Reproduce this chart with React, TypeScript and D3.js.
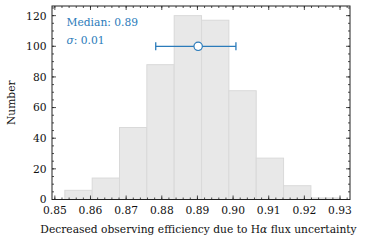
import React from "react";
import * as d3 from "d3";

const binStart = 0.8528;
const binWidth = 0.00767;
const counts = [6, 14, 47, 88, 120, 117, 71, 27, 9, 1];
const xTicks = [0.85, 0.86, 0.87, 0.88, 0.89, 0.9, 0.91, 0.92, 0.93];
const yTicks = [0, 20, 40, 60, 80, 100, 120];
const median = 0.8902;
const errLow = 0.8783;
const errHigh = 0.9008;
const errY = 100;
const annot = ["Median: 0.89", "σ: 0.01"];

const W = 366, H = 243;
const m = { left: 52, right: 16, top: 6, bottom: 43.5 };
const FONT = "DejaVu Serif";
const FS = 10.7;
const BLUE = "#2b7bba";

export default function App() {
  const x = d3.scaleLinear().domain([0.8492, 0.9328]).range([m.left, W - m.right]);
  const y = d3.scaleLinear().domain([0, 126.3]).range([H - m.bottom, m.top]);
  const x0 = m.left, x1 = W - m.right, y0 = H - m.bottom, y1 = m.top;
  const xMinor = d3.range(0.85, 0.9329, 0.002).filter(v => v >= 0.8492 && v <= 0.9328);
  const yMinor = d3.range(0, 126, 5);
  const bins = counts.map((c, i) => ({ a: binStart + i * binWidth, b: binStart + (i + 1) * binWidth, c }));
  return (
    <svg width={W} height={H} style={{ position: "absolute", left: 0, top: 0 }} fontFamily={FONT}>
      <rect x={0} y={0} width={W} height={H} fill="#fff" />
      {bins.map((d, i) => (
        <rect key={i} x={x(d.a)} y={y(d.c)} width={x(d.b) - x(d.a)} height={y(0) - y(d.c)}
          fill="#e8e8e8" stroke="#d9d9d9" strokeWidth={1} />
      ))}
      <line x1={x(errLow)} x2={x(errHigh)} y1={y(errY)} y2={y(errY)} stroke={BLUE} strokeWidth={1.3} />
      <line x1={x(errLow)} x2={x(errLow)} y1={y(errY) - 4} y2={y(errY) + 4} stroke={BLUE} strokeWidth={1.3} />
      <line x1={x(errHigh)} x2={x(errHigh)} y1={y(errY) - 4} y2={y(errY) + 4} stroke={BLUE} strokeWidth={1.3} />
      <circle cx={x(median)} cy={y(errY)} r={4.2} fill="#fff" stroke={BLUE} strokeWidth={1.2} />
      <text x={66.5} y={25.7} fontSize={FS} fill={BLUE}>{annot[0]}</text>
      <text x={66.5} y={44.3} fontSize={FS} fill={BLUE}>
        <tspan fontStyle="italic">σ</tspan>{annot[1].slice(1)}
      </text>
      <rect x={x0} y={y1} width={x1 - x0} height={y0 - y1} fill="none" stroke="#222" strokeWidth={1} />
      {xMinor.map((v, i) => (
        <g key={"xm" + i}>
          <line x1={x(v)} x2={x(v)} y1={y0} y2={y0 - 2} stroke="#222" strokeWidth={0.8} />
          <line x1={x(v)} x2={x(v)} y1={y1} y2={y1 + 2} stroke="#222" strokeWidth={0.8} />
        </g>
      ))}
      {xTicks.map((v, i) => (
        <g key={"x" + i}>
          <line x1={x(v)} x2={x(v)} y1={y0} y2={y0 - 4} stroke="#222" strokeWidth={0.8} />
          <line x1={x(v)} x2={x(v)} y1={y1} y2={y1 + 4} stroke="#222" strokeWidth={0.8} />
          <text x={x(v)} y={214.3} fontSize={FS} textAnchor="middle" fill="#111">{v.toFixed(2)}</text>
        </g>
      ))}
      {yMinor.map((v, i) => (
        <g key={"ym" + i}>
          <line x1={x0} x2={x0 + 2} y1={y(v)} y2={y(v)} stroke="#222" strokeWidth={0.8} />
          <line x1={x1} x2={x1 - 2} y1={y(v)} y2={y(v)} stroke="#222" strokeWidth={0.8} />
        </g>
      ))}
      {yTicks.map((v, i) => (
        <g key={"y" + i}>
          <line x1={x0} x2={x0 + 4} y1={y(v)} y2={y(v)} stroke="#222" strokeWidth={0.8} />
          <line x1={x1} x2={x1 - 4} y1={y(v)} y2={y(v)} stroke="#222" strokeWidth={0.8} />
          <text x={x0 - 5.5} y={y(v) + 3.9} fontSize={FS} textAnchor="end" fill="#111">{v}</text>
        </g>
      ))}
      <text x={(x0 + x1) / 2 - 2.5} y={232.5} fontSize={FS} textAnchor="middle" fill="#111">
        Decreased observing efficiency due to H<tspan fontStyle="italic">α</tspan> flux uncertainty
      </text>
      <text transform={`translate(15,${(y0 + y1) / 2}) rotate(-90)`} fontSize={FS} textAnchor="middle" fill="#111">Number</text>
    </svg>
  );
}
